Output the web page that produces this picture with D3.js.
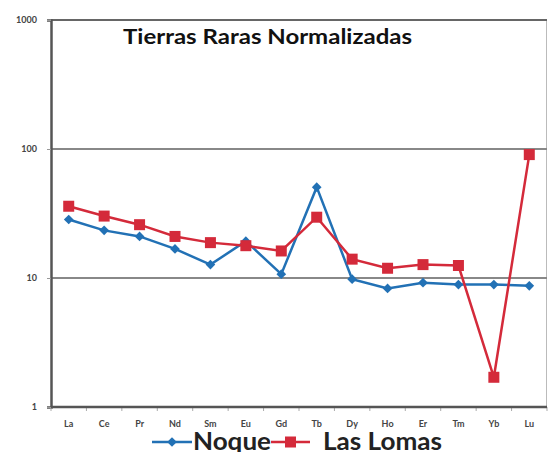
<!DOCTYPE html>
<html>
<head>
<meta charset="utf-8">
<script src="https://cdn.jsdelivr.net/npm/d3@7"></script>
<style>
  body { margin: 0; background: #fff; }
  svg { display: block; }
</style>
</head>
<body>
<svg id="chart"></svg>
<script>
// data
var elements = ["La", "Ce", "Pr", "Nd", "Sm", "Eu", "Gd", "Tb", "Dy", "Ho", "Er", "Tm", "Yb", "Lu"];
var noque = [28.4, 23.4, 21, 16.8, 12.7, 19.3, 10.7, 50.6, 9.8, 8.3, 9.2, 8.9, 8.9, 8.7];
var lasLomas = [36, 30.2, 25.9, 21, 18.8, 17.8, 16.2, 29.6, 14, 11.9, 12.7, 12.5, 1.7, 90.5];
var yTicks = [1, 10, 100, 1000];

var W = 548, H = 452;
var margin = { top: 20, right: 1, bottom: 45, left: 51 },
  width = W - margin.left - margin.right,
  height = H - margin.top - margin.bottom;

var blue = "#2271b5", red = "#d42a3a";

var svg = d3.select("#chart")
  .attr("width", W)
  .attr("height", H)
  .append("g")
  .attr("transform", "translate(" + margin.left + "," + margin.top + ")");

var x = d3.scaleBand().domain(elements).range([0, width]);
var y = d3.scaleLog().domain([1, 1000]).range([height, 0]);

// right border
svg.append("line")
  .attr("x1", width - 0.5).attr("x2", width - 0.5)
  .attr("y1", 0).attr("y2", height)
  .style("stroke", "#bbb").style("stroke-width", 1);

// gridlines (10, 100, 1000)
svg.selectAll(".grid")
  .data(yTicks.slice(1))
  .enter()
  .append("line")
  .attr("x1", 0).attr("x2", width)
  .attr("y1", function (d) { return y(d); })
  .attr("y2", function (d) { return y(d); })
  .style("stroke", function (d) { return d == 1000 ? "#666" : "#888"; })
  .style("stroke-width", 2);

// Y axis
var yAxis = svg.append("g")
  .call(d3.axisLeft(y).tickValues(yTicks).tickFormat(d3.format("d")).tickSize(4).tickPadding(10));
yAxis.select(".domain").style("stroke", "#555").style("stroke-width", 2.5);
yAxis.selectAll(".tick line").style("stroke", "#999");
yAxis.selectAll("text")
  .style("font-family", "Lato, sans-serif")
  .style("font-size", "9px")
  .style("font-weight", "bold")
  .style("fill", "#444");

// X axis
var xAxis = svg.append("g")
  .attr("transform", "translate(0," + height + ")")
  .call(d3.axisBottom(x).tickSize(0).tickPadding(14));
xAxis.select(".domain").remove();
xAxis.selectAll("text")
  .style("font-family", "Lato, sans-serif")
  .style("font-size", "9px")
  .style("font-weight", "bold")
  .style("fill", "#444");
svg.selectAll(".xtick")
  .data(d3.range(elements.length + 1))
  .enter()
  .append("line")
  .attr("x1", function (i) { return i * x.step(); })
  .attr("x2", function (i) { return i * x.step(); })
  .attr("y1", height).attr("y2", height + 4)
  .style("stroke", "#aaa");
svg.append("line")
  .attr("x1", 0).attr("x2", width)
  .attr("y1", height).attr("y2", height)
  .style("stroke", "#555").style("stroke-width", 2.5);

var cx = function (d, i) { return x(elements[i]) + x.bandwidth() / 2; };

var line = d3.line()
  .x(function (d, i) { return x(elements[i]) + x.bandwidth() / 2; })
  .y(function (d) { return y(d); });

// Noque
svg.append("path")
  .datum(noque)
  .attr("d", line)
  .style("fill", "none")
  .style("stroke", blue)
  .style("stroke-width", 2.5);
svg.selectAll(".diamond")
  .data(noque)
  .enter()
  .append("path")
  .attr("d", d3.symbol().type(d3.symbolDiamond2).size(60))
  .attr("transform", function (d, i) { return "translate(" + cx(d, i) + "," + y(d) + ")"; })
  .style("fill", blue);

// Las Lomas
svg.append("path")
  .datum(lasLomas)
  .attr("d", line)
  .style("fill", "none")
  .style("stroke", red)
  .style("stroke-width", 2.5);
svg.selectAll(".square")
  .data(lasLomas)
  .enter()
  .append("rect")
  .attr("x", function (d, i) { return cx(d, i) - 5.5; })
  .attr("y", function (d) { return y(d) - 5.5; })
  .attr("width", 11)
  .attr("height", 11)
  .style("fill", red);

// title
svg.append("text")
  .attr("x", 123 - margin.left)
  .attr("y", 44 - margin.top)
  .attr("textLength", 289)
  .attr("lengthAdjust", "spacingAndGlyphs")
  .text("Tierras Raras Normalizadas")
  .style("font-family", "Lato, sans-serif")
  .style("font-size", "21px")
  .style("font-weight", "bold")
  .style("fill", "#111");

// legend
var lg = d3.select("#chart").append("g");
lg.append("line").attr("x1", 152).attr("x2", 192).attr("y1", 442).attr("y2", 442)
  .style("stroke", blue).style("stroke-width", 2.5);
lg.append("path")
  .attr("d", d3.symbol().type(d3.symbolDiamond2).size(60))
  .attr("transform", "translate(172,442)")
  .style("fill", blue);
lg.append("text").attr("x", 193).attr("y", 450)
  .attr("textLength", 78).attr("lengthAdjust", "spacingAndGlyphs")
  .text("Noque")
  .style("font-family", "Lato, sans-serif").style("font-size", "24px")
  .style("font-weight", "bold").style("fill", "#222");
lg.append("line").attr("x1", 271).attr("x2", 310).attr("y1", 442).attr("y2", 442)
  .style("stroke", red).style("stroke-width", 2.5);
lg.append("rect").attr("x", 285).attr("y", 436.5).attr("width", 11).attr("height", 11)
  .style("fill", red);
lg.append("text").attr("x", 323).attr("y", 450)
  .attr("textLength", 119).attr("lengthAdjust", "spacingAndGlyphs")
  .text("Las Lomas")
  .style("font-family", "Lato, sans-serif").style("font-size", "24px")
  .style("font-weight", "bold").style("fill", "#222");
</script>
</body>
</html>
